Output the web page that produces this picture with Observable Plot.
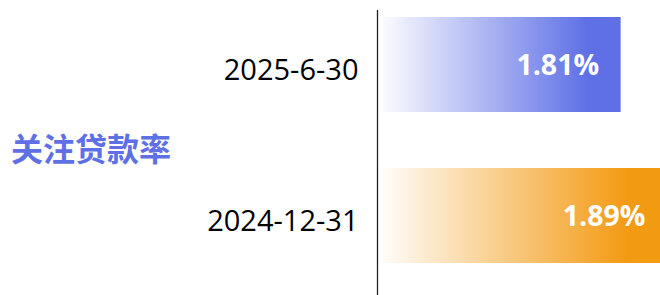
<!DOCTYPE html>
<html>
<head>
<meta charset="utf-8">
<script src="https://cdn.jsdelivr.net/npm/d3@7"></script>
<script src="https://cdn.jsdelivr.net/npm/@observablehq/plot@0.6"></script>
<style>
  html, body { margin: 0; padding: 0; background: #fff; overflow: hidden; }
  #wrap { position: relative; width: 660px; height: 295px; }
  #title { position: absolute; left: 11px; top: 131px; font-family: "Noto Sans CJK SC", sans-serif; font-weight: 700; font-size: 32px; line-height: 32px; color: #5f70e6; white-space: nowrap; }
  #chart { position: absolute; left: 0; top: 0; }
</style>
</head>
<body>
<div id="wrap">
  <div id="chart"></div>
  <div id="title"></div>
</div>
<script>
const title = "关注贷款率";
const categories = ["2025-6-30", "2024-12-31"];
const values = [1.81, 1.89];
const valueLabels = ["1.81%", "1.89%"];
const baseline = 1.4;
const barColors = ["#5f70e6", "#f39a13"];

document.getElementById("title").textContent = title;

const data = categories.map((c, i) => ({
  category: c,
  value: values[i],
  label: valueLabels[i],
  fill: `url(#grad${i})`
}));

const chart = Plot.plot({
  width: 660,
  height: 295,
  marginLeft: 383,
  marginRight: 0,
  marginTop: 10,
  marginBottom: 0,
  style: { fontFamily: "'Open Sans', 'Noto Sans CJK SC', sans-serif", background: "transparent", overflow: "hidden" },
  x: { domain: [baseline, d3.max(values)], range: [383, 667], axis: null },
  y: { domain: categories, paddingInner: 0.373, paddingOuter: 0.127, align: 0.18, label: null },
  color: { type: "identity" },
  marks: [
    Plot.barX(data, { y: "category", x1: () => baseline, x2: "value", fill: "fill", clip: true }),
    Plot.ruleX([baseline], { dx: -6, stroke: "#222", strokeWidth: 1.3 }),
    Plot.axisY({ tickSize: 0, tickPadding: 25, fontSize: 29, fill: "#000", dy: 6, label: null }),
    Plot.text(data, { y: "category", x: "value", text: "label", textAnchor: "end", dx: -22, dy: 1, fill: "#fff", fontSize: 28.5, fontWeight: 700 })
  ]
});

const svg = d3.select(chart);
const defs = svg.insert("defs", ":first-child");
barColors.forEach((c, i) => {
  const g = defs.append("linearGradient").attr("id", `grad${i}`)
    .attr("x1", "0").attr("y1", "0").attr("x2", "1").attr("y2", "0");
  g.append("stop").attr("offset", "0").attr("stop-color", c).attr("stop-opacity", 0.03);
  g.append("stop").attr("offset", "0.86").attr("stop-color", c).attr("stop-opacity", 1);
  g.append("stop").attr("offset", "1").attr("stop-color", c).attr("stop-opacity", 1);
});

document.getElementById("chart").appendChild(chart);
</script>
</body>
</html>
